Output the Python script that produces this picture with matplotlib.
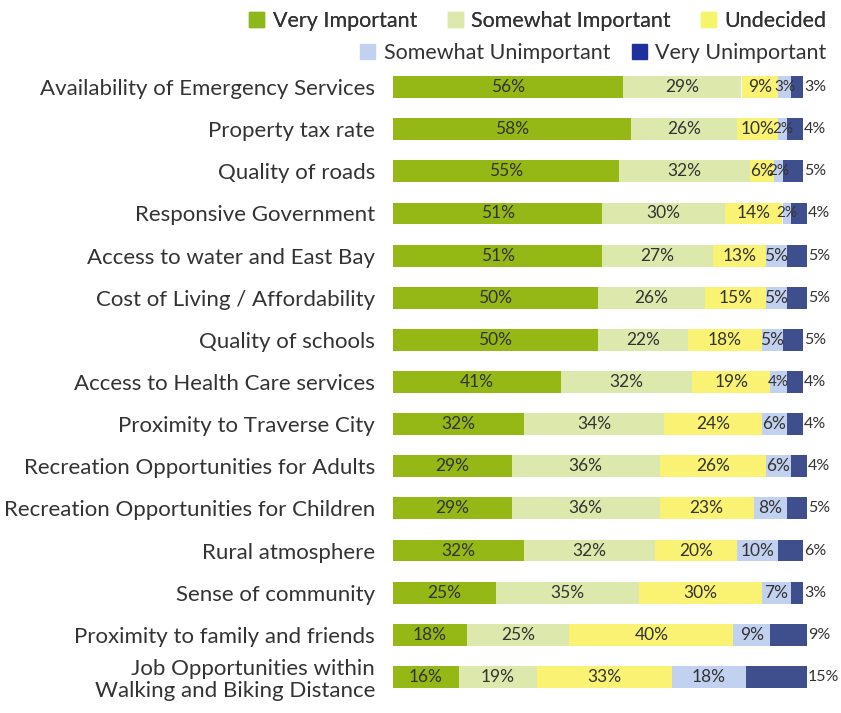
import matplotlib.pyplot as plt
import numpy as np
from matplotlib.patches import Patch

plt.rcParams["font.family"] = ["Lato", "DejaVu Sans"]

categories = [
    "Availability of Emergency Services",
    "Property tax rate",
    "Quality of roads",
    "Responsive Government",
    "Access to water and East Bay",
    "Cost of Living / Affordability",
    "Quality of schools",
    "Access to Health Care services",
    "Proximity to Traverse City",
    "Recreation Opportunities for Adults",
    "Recreation Opportunities for Children",
    "Rural atmosphere",
    "Sense of community",
    "Proximity to family and friends",
    "Job Opportunities within\nWalking and Biking Distance",
]

very_important = [56, 58, 55, 51, 51, 50, 50, 41, 32, 29, 29, 32, 25, 18, 16]
somewhat_important = [29, 26, 32, 30, 27, 26, 22, 32, 34, 36, 36, 32, 35, 25, 19]
undecided = [9, 10, 6, 14, 13, 15, 18, 19, 24, 26, 23, 20, 30, 40, 33]
somewhat_unimportant = [3, 2, 2, 2, 5, 5, 5, 4, 6, 6, 8, 10, 7, 9, 18]
very_unimportant = [3, 4, 5, 4, 5, 5, 5, 4, 4, 4, 5, 6, 3, 9, 15]

series = [
    ("Very Important", very_important, "#95b816"),
    ("Somewhat Important", somewhat_important, "#dde8ad"),
    ("Undecided", undecided, "#f9f272"),
    ("Somewhat Unimportant", somewhat_unimportant, "#c3d1f0"),
    ("Very Unimportant", very_unimportant, "#3f4f8e"),
]

fig = plt.figure(figsize=(8.41, 7.13), dpi=100)
ax = fig.add_axes([393 / 841, 15 / 713, 410 / 841, 632 / 713])

y = np.arange(len(categories))
left = np.zeros(len(categories))
text_color = "#333333"

for i, (name, vals, color) in enumerate(series):
    vals = np.array(vals, dtype=float)
    ax.barh(y, vals, left=left, height=0.52, color=color, clip_on=False)
    for yi, l, v in zip(y, left, vals):
        if i == len(series) - 1:
            # last segment labelled just past the end of the bar
            ax.text(l + v + 0.2, yi, f"{int(v)}%", ha="left", va="center",
                    fontsize=11.5, color=text_color, clip_on=False)
        else:
            ax.text(l + v / 2, yi, f"{int(v)}%", ha="center", va="center",
                    fontsize=12.5 if v >= 5 else 11, color=text_color)
    left += vals

ax.set_xlim(0, 100)
ax.set_ylim(len(categories) - 0.5, -0.5)
ax.set_yticks(y)
ax.set_yticklabels(categories, fontsize=16, color=text_color, linespacing=1.1)
ax.tick_params(axis="y", length=0, pad=13)
ax.set_xticks([])
for s in ax.spines.values():
    s.set_visible(False)

legend_colors = ["#8cb81a", "#dde8ad", "#f4f56a", "#c3d1f0", "#1f2f9c"]
handles = [Patch(color=c, label=n) for (n, _, _), c in zip(series, legend_colors)]

leg1 = fig.legend(handles=handles[:3], loc="upper right", bbox_to_anchor=(1.006, 1.012),
                  ncol=3, frameon=False, fontsize=15.5, handlelength=0.7, handleheight=0.7,
                  handletextpad=0.4, columnspacing=1.4, labelcolor=text_color)
fig.add_artist(leg1)
fig.legend(handles=handles[3:], loc="upper right", bbox_to_anchor=(1.006, 0.967),
           ncol=2, frameon=False, fontsize=15.5, handlelength=0.7, handleheight=0.7,
           handletextpad=0.4, columnspacing=1.0, labelcolor=text_color)

fig.savefig("out.png", dpi=100)
